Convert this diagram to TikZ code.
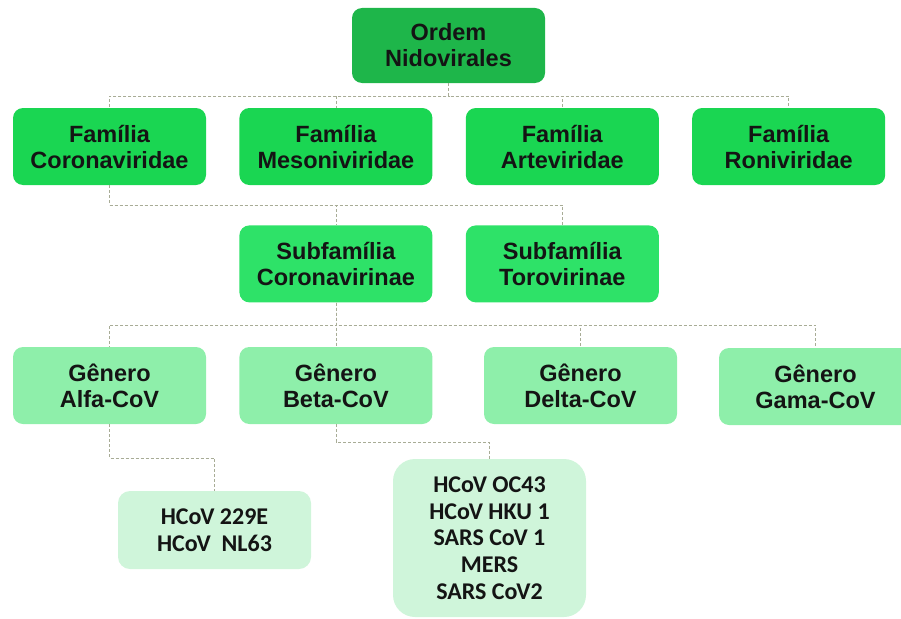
\documentclass[tikz,border=0pt]{standalone}
\usepackage{fontspec}
\setmainfont{Liberation Sans}
\newfontfamily\speciesfont{Carlito}
\definecolor{ordgreen}{RGB}{30,182,74}
\definecolor{famgreen}{RGB}{26,214,82}
\definecolor{subgreen}{RGB}{46,226,104}
\definecolor{gengreen}{RGB}{142,239,170}
\definecolor{spcgreen}{RGB}{207,245,218}
\definecolor{linkgray}{RGB}{168,172,150}
\definecolor{txtdark}{RGB}{20,20,20}
\usetikzlibrary{positioning}

\begin{document}
\begin{tikzpicture}[
  x=1pt, y=-1pt,
  node distance=40pt and 33pt,
  box/.style={rounded corners=10pt, minimum width=193pt, minimum height=77pt, inner sep=0pt, align=center, text=txtdark, font=\bfseries\fontsize{23.5}{26}\selectfont},
  ordbox/.style={box, fill=ordgreen, minimum height=75pt},
  fambox/.style={box, fill=famgreen},
  subbox/.style={box, fill=subgreen},
  genbox/.style={box, fill=gengreen},
  spcbox/.style={box, fill=spcgreen, font=\speciesfont\bfseries\fontsize{24}{26.7}\selectfont},
  link/.style={draw=linkgray, line width=0.8pt, dash pattern=on 3pt off 2pt}
]
\useasboundingbox (0,0) rectangle (901,618);
\clip (0,0) rectangle (901,618);

% Order
\node[ordbox] (ordem) at (448.5,45.5) {Ordem\\Nidovirales};

% Families
\node[fambox] (famcor) at (109.5,146.5) {Família\\Coronaviridae};
\node[fambox, right=of famcor] (fammes) {Família\\Mesoniviridae};
\node[fambox, right=of fammes] (famart) {Família\\Arteviridae};
\node[fambox, right=of famart] (famron) {Família\\Roniviridae};

% Subfamilies
\node[subbox, below=of fammes] (subcor) {Subfamília\\Coronavirinae};
\node[subbox, right=of subcor] (subtor) {Subfamília\\Torovirinae};

% Genera
\node[genbox] (genalf) at (109.5,385.5) {Gênero\\Alfa-CoV};
\node[genbox, right=of genalf] (genbet) {Gênero\\Beta-CoV};
\node[genbox] (gendel) at (580.5,385.5) {Gênero\\Delta-CoV};
\node[genbox] (gengam) at (815.5,386.5) {Gênero\\Gama-CoV};

% Species
\node[spcbox, minimum height=78pt, rounded corners=12pt] (spcalf) at (214.5,530) {HCoV 229E\\HCoV\ \ NL63};
\node[spcbox, minimum height=158pt, rounded corners=22pt] (spcbet) at (489.5,538) {HCoV OC43\\HCoV HKU 1\\SARS CoV 1\\MERS\\SARS CoV2};

% Connectors
\coordinate (busA) at (0,96);
\coordinate (busB) at (0,205);
\coordinate (busC) at (0,325);
\coordinate (busD) at (0,458);
\coordinate (busE) at (0,442);

\foreach \f in {famcor,fammes,famart,famron}
  \draw[link] (ordem.south) -- (ordem.south |- busA) -| (\f.north);
\foreach \s in {subcor,subtor}
  \draw[link] (famcor.south) -- (famcor.south |- busB) -| (\s.north);
\foreach \g in {genalf,genbet,gendel,gengam}
  \draw[link] (subcor.south) -- (subcor.south |- busC) -| (\g.north);
\draw[link] (genalf.south) -- (genalf.south |- busD) -| (spcalf.north);
\draw[link] (genbet.south) -- (genbet.south |- busE) -| (spcbet.north);
\end{tikzpicture}
\end{document}
